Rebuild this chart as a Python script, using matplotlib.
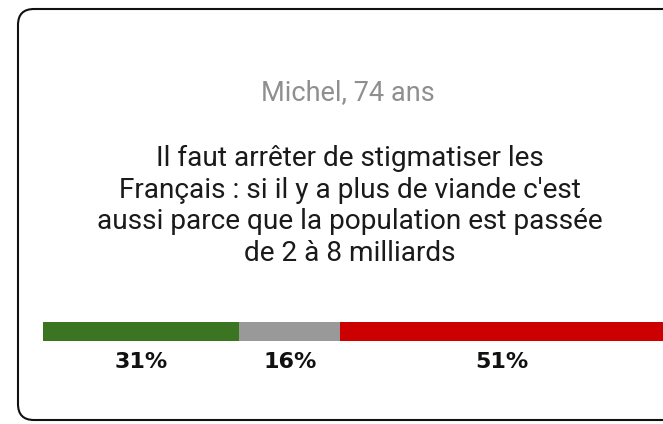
import matplotlib
matplotlib.use("Agg")
from matplotlib import pyplot as plt
from matplotlib.patches import FancyBboxPatch

# data
speaker = "Michel, 74 ans"
quote = ("Il faut arrêter de stigmatiser les\n"
         "Français : si il y a plus de viande c'est\n"
         "aussi parce que la population est passée\n"
         "de 2 à 8 milliards")
shares = [31, 16, 51]
share_labels = ["31%", "16%", "51%"]
colors = ["#3b7522", "#999999", "#cc0000"]

W, H = 663, 424
fig = plt.figure(figsize=(W / 100, H / 100), dpi=100)

# card background in pixel coordinates
bg = fig.add_axes([0, 0, 1, 1])
bg.set_xlim(0, W)
bg.set_ylim(H, 0)
bg.axis("off")
card = FancyBboxPatch((18, 9), 680, 411, boxstyle="round,pad=0,rounding_size=16",
                      fc="white", ec="#111111", lw=1.5)
bg.add_patch(card)
bg.text(348, 93, speaker, ha="center", va="center", fontsize=19.5,
        color="#8f8f8f", family="Roboto")
bg.text(350, 206, quote, ha="center", va="center", fontsize=20.2,
        color="#1a1a1a", family="Roboto", linespacing=1.23)

# stacked bar
bx0, bx1, by0, by1 = 43, 663, 322, 341
ax = fig.add_axes([bx0 / W, 1 - by1 / H, (bx1 - bx0) / W, (by1 - by0) / H])
left = 0
for v, lab, c in zip(shares, share_labels, colors):
    ax.barh(0.5, v, left=left, height=1, color=c)
    ax.text(left + v / 2, -1.1, lab, ha="center", va="center", fontsize=16,
            fontweight="bold", color="#111111", family="DejaVu Sans", clip_on=False)
    left += v
ax.set_xlim(0, sum(shares))
ax.set_ylim(0, 1)
ax.axis("off")

plt.savefig("out.png", dpi=100)
